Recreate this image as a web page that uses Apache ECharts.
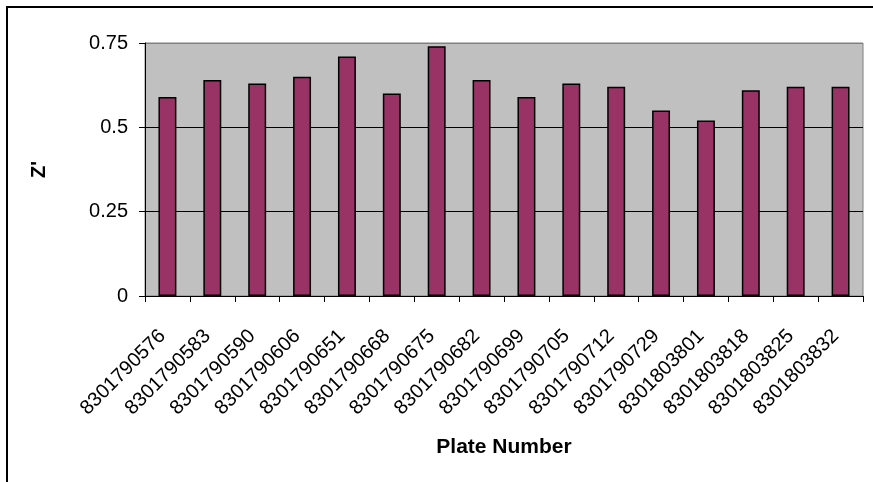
<!DOCTYPE html>
<html>
<head>
<meta charset="utf-8">
<script src="https://cdn.jsdelivr.net/npm/echarts@6/dist/echarts.min.js"></script>
<style>html,body{margin:0;padding:0;background:#fff}#c{width:873px;height:482px}</style>
</head>
<body>
<div id="c"></div>
<script>
const plates = ['8301790576','8301790583','8301790590','8301790606','8301790651','8301790668','8301790675','8301790682','8301790699','8301790705','8301790712','8301790729','8301803801','8301803818','8301803825','8301803832'];
const zPrime = [0.59,0.64,0.63,0.65,0.71,0.60,0.74,0.64,0.59,0.63,0.62,0.55,0.52,0.61,0.62,0.62];
const yTicks = [0, 0.25, 0.5, 0.75];

const chart = echarts.init(document.getElementById('c'), null, {renderer:'canvas'});
const font = '"Liberation Sans", Arial, sans-serif';
chart.setOption({
  animation:false,
  backgroundColor:'#fff',
  graphic:[{type:'rect', shape:{x:7,y:7,width:900,height:500}, style:{fill:'none',stroke:'#000',lineWidth:2}, z:100}],
  grid:{left:145,right:10,top:43,bottom:186,show:true,backgroundColor:'#C0C0C0',borderColor:'#808080',borderWidth:1},
  xAxis:{
    type:'category', data:plates,
    name:'Plate Number', nameLocation:'middle', nameGap:141,
    nameTextStyle:{fontFamily:font,fontSize:21,fontWeight:'bold',color:'#000'},
    axisLine:{lineStyle:{color:'#000',width:1}},
    axisTick:{show:true,length:6,lineStyle:{color:'#000'}},
    axisLabel:{interval:0,rotate:45,margin:32,padding:[0,7,0,0],fontFamily:font,fontSize:20,color:'#000'},
    splitLine:{show:false}
  },
  yAxis:{
    type:'value', min:yTicks[0], max:yTicks[yTicks.length-1], interval:0.25,
    name:"Z'", nameLocation:'middle', nameGap:96,
    nameTextStyle:{fontFamily:font,fontSize:20,fontWeight:'bold',color:'#000'},
    axisLine:{show:true,lineStyle:{color:'#000',width:1}},
    axisTick:{show:true,length:6,lineStyle:{color:'#000'}},
    axisLabel:{margin:17,fontFamily:font,fontSize:20,color:'#000'},
    splitLine:{show:true,lineStyle:{color:['#000','#000','#000','#808080'],width:1}}
  },
  series:[{
    type:'bar', data:zPrime, barWidth:'40%',
    itemStyle:{color:'#993366',borderColor:'#000',borderWidth:1.5}
  }]
});
</script>
</body>
</html>
